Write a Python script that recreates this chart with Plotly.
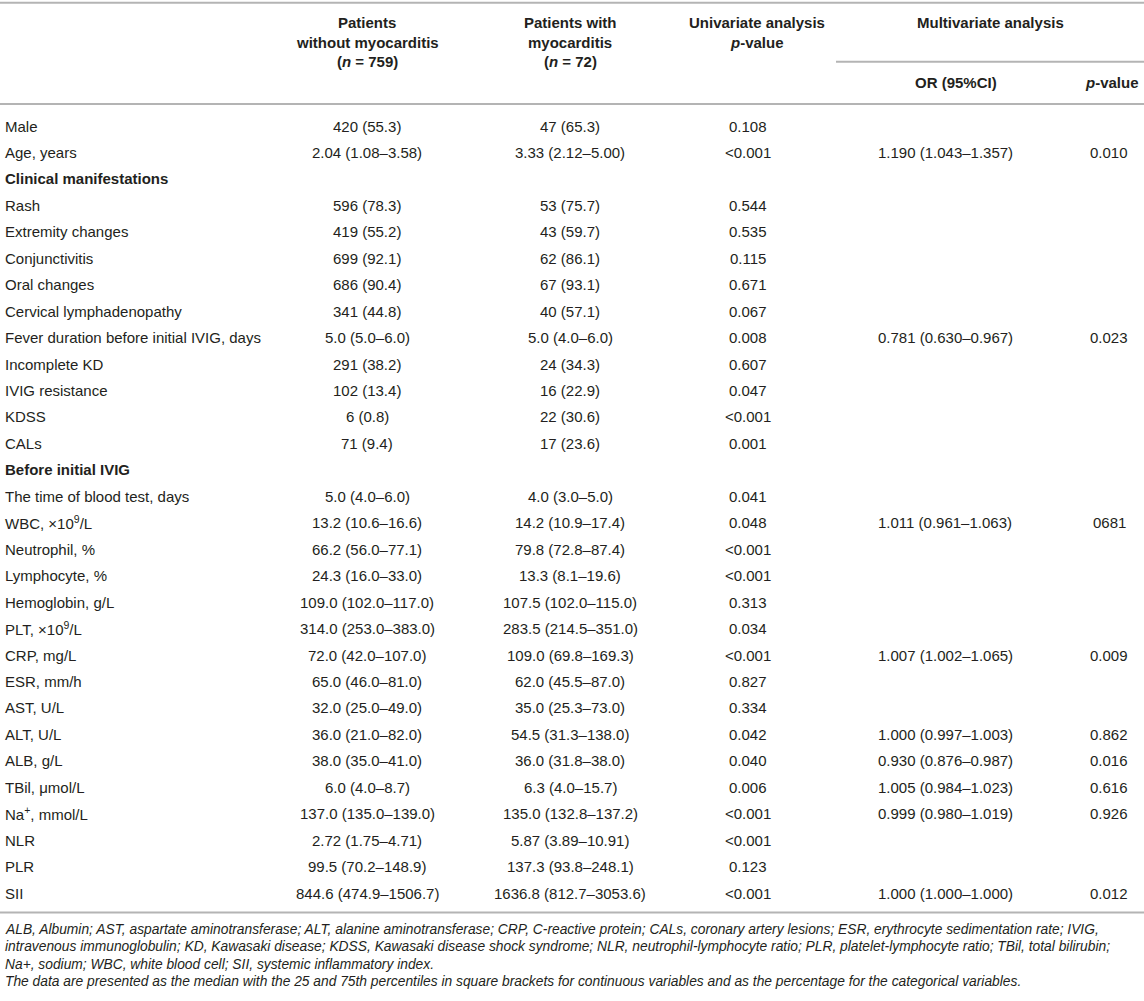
import plotly.graph_objects as go

# ---------------- data ----------------
labels = [
    "Male", "Age, years", "Clinical manifestations", "Rash", "Extremity changes",
    "Conjunctivitis", "Oral changes", "Cervical lymphadenopathy",
    "Fever duration before initial IVIG, days", "Incomplete KD", "IVIG resistance",
    "KDSS", "CALs", "Before initial IVIG", "The time of blood test, days",
    "WBC, \u00d710<sup>9</sup>/L", "Neutrophil, %", "Lymphocyte, %", "Hemoglobin, g/L",
    "PLT, \u00d710<sup>9</sup>/L", "CRP, mg/L", "ESR, mm/h", "AST, U/L", "ALT, U/L",
    "ALB, g/L", "TBil, \u03bcmol/L", "Na<sup>+</sup>, mmol/L", "NLR", "PLR", "SII",
]
section_rows = ["Clinical manifestations", "Before initial IVIG"]

without_myocarditis = [
    "420 (55.3)", "2.04 (1.08\u20133.58)", "", "596 (78.3)", "419 (55.2)",
    "699 (92.1)", "686 (90.4)", "341 (44.8)", "5.0 (5.0\u20136.0)", "291 (38.2)",
    "102 (13.4)", "6 (0.8)", "71 (9.4)", "", "5.0 (4.0\u20136.0)",
    "13.2 (10.6\u201316.6)", "66.2 (56.0\u201377.1)", "24.3 (16.0\u201333.0)",
    "109.0 (102.0\u2013117.0)", "314.0 (253.0\u2013383.0)", "72.0 (42.0\u2013107.0)",
    "65.0 (46.0\u201381.0)", "32.0 (25.0\u201349.0)", "36.0 (21.0\u201382.0)",
    "38.0 (35.0\u201341.0)", "6.0 (4.0\u20138.7)", "137.0 (135.0\u2013139.0)",
    "2.72 (1.75\u20134.71)", "99.5 (70.2\u2013148.9)", "844.6 (474.9\u20131506.7)",
]
with_myocarditis = [
    "47 (65.3)", "3.33 (2.12\u20135.00)", "", "53 (75.7)", "43 (59.7)",
    "62 (86.1)", "67 (93.1)", "40 (57.1)", "5.0 (4.0\u20136.0)", "24 (34.3)",
    "16 (22.9)", "22 (30.6)", "17 (23.6)", "", "4.0 (3.0\u20135.0)",
    "14.2 (10.9\u201317.4)", "79.8 (72.8\u201387.4)", "13.3 (8.1\u201319.6)",
    "107.5 (102.0\u2013115.0)", "283.5 (214.5\u2013351.0)", "109.0 (69.8\u2013169.3)",
    "62.0 (45.5\u201387.0)", "35.0 (25.3\u201373.0)", "54.5 (31.3\u2013138.0)",
    "36.0 (31.8\u201338.0)", "6.3 (4.0\u201315.7)", "135.0 (132.8\u2013137.2)",
    "5.87 (3.89\u201310.91)", "137.3 (93.8\u2013248.1)", "1636.8 (812.7\u20133053.6)",
]
univariate_p = [
    "0.108", "&lt;0.001", "", "0.544", "0.535", "0.115", "0.671", "0.067", "0.008",
    "0.607", "0.047", "&lt;0.001", "0.001", "", "0.041", "0.048", "&lt;0.001",
    "&lt;0.001", "0.313", "0.034", "&lt;0.001", "0.827", "0.334", "0.042", "0.040",
    "0.006", "&lt;0.001", "&lt;0.001", "0.123", "&lt;0.001",
]
or_95ci = [
    "", "1.190 (1.043\u20131.357)", "", "", "", "", "", "", "0.781 (0.630\u20130.967)",
    "", "", "", "", "", "", "1.011 (0.961\u20131.063)", "", "", "", "",
    "1.007 (1.002\u20131.065)", "", "", "1.000 (0.997\u20131.003)",
    "0.930 (0.876\u20130.987)", "1.005 (0.984\u20131.023)", "0.999 (0.980\u20131.019)",
    "", "", "1.000 (1.000\u20131.000)",
]
multivariate_p = [
    "", "0.010", "", "", "", "", "", "", "0.023", "", "", "", "", "", "", "0681",
    "", "", "", "", "0.009", "", "", "0.862", "0.016", "0.616", "0.926", "", "", "0.012",
]

header_col1 = ["Patients", "without myocarditis", "(<i>n</i> = 759)"]
header_col2 = ["Patients with", "myocarditis", "(<i>n</i> = 72)"]
header_col3 = ["Univariate analysis", "<i>p</i>-value"]
header_multi = "Multivariate analysis"
header_or = "OR (95%CI)"
header_p = "<i>p</i>-value"

footnotes = [
    "ALB, Albumin; AST, aspartate aminotransferase; ALT, alanine aminotransferase; CRP, C-reactive protein; CALs, coronary artery lesions; ESR, erythrocyte sedimentation rate; IVIG,",
    "intravenous immunoglobulin; KD, Kawasaki disease; KDSS, Kawasaki disease shock syndrome; NLR, neutrophil-lymphocyte ratio; PLR, platelet-lymphocyte ratio; TBil, total bilirubin;",
    "Na+, sodium; WBC, white blood cell; SII, systemic inflammatory index.",
    "The data are presented as the median with the 25 and 75th percentiles in square brackets for continuous variables and as the percentage for the categorical variables.",
]

# ---------------- layout constants ----------------
W, H = 1144, 1001
FONT = "Liberation Sans, Arial, Helvetica, sans-serif"
TXT = "#231f20"
LINE = "#b4b4b4"
LABEL_X = 3
COL_X = {"c1": 367, "c2": 570, "c3": 748, "or": 945, "p": 1109}
HEAD_X = {"c1": 367, "c2": 570, "c3": 757, "multi": 990, "or": 956}
HEAD_P_RIGHT = 1141
ROW0, ROW_H = 126, 26.45
HEAD_Y0, HEAD_DY = 22.5, 19.6
SUB_HEAD_Y = 82.7
FOOT_Y0, FOOT_DY = 929, 17.6
BODY_SIZE, FOOT_SIZE = 15, 13.8

fig = go.Figure()
ann = []


def add(text, x, y, anchor="center", bold=False, italic=False, size=BODY_SIZE):
    t = text
    if bold:
        t = "<b>" + t + "</b>"
    if italic:
        t = "<i>" + t + "</i>"
    ann.append(dict(text=t, x=x, y=y, xref="x", yref="y", xanchor=anchor,
                    yanchor="middle", showarrow=False,
                    font=dict(family=FONT, size=size, color=TXT)))


# header
for k, line in enumerate(header_col1):
    add(line, HEAD_X["c1"], HEAD_Y0 + k * HEAD_DY, bold=True)
for k, line in enumerate(header_col2):
    add(line, HEAD_X["c2"], HEAD_Y0 + k * HEAD_DY, bold=True)
for k, line in enumerate(header_col3):
    add(line, HEAD_X["c3"], HEAD_Y0 + k * HEAD_DY, bold=True)
add(header_multi, HEAD_X["multi"], HEAD_Y0, bold=True)
add(header_or, HEAD_X["or"], SUB_HEAD_Y, bold=True)
add(header_p, HEAD_P_RIGHT, SUB_HEAD_Y, anchor="right", bold=True)

# body
for i, lab in enumerate(labels):
    y = ROW0 + i * ROW_H
    add(lab, LABEL_X, y, anchor="left", bold=lab in section_rows)
    for key, col in (("c1", without_myocarditis), ("c2", with_myocarditis),
                     ("c3", univariate_p), ("or", or_95ci), ("p", multivariate_p)):
        if col[i]:
            add(col[i], COL_X[key], y)

# footnotes
for k, line in enumerate(footnotes):
    add(line, LABEL_X, FOOT_Y0 + k * FOOT_DY, anchor="left", italic=True, size=FOOT_SIZE)

# rules
last_row_y = ROW0 + (len(labels) - 1) * ROW_H
rules = [
    (0, W, 2.7),
    (836, W, 61.7),
    (0, W, 104),
    (0, W, last_row_y + 19.5),
]
shapes = [dict(type="line", xref="x", yref="y", x0=a, x1=b, y0=y, y1=y,
               line=dict(color=LINE, width=2)) for a, b, y in rules]

fig.update_layout(
    width=W, height=H, autosize=False,
    margin=dict(l=0, r=0, t=0, b=0, pad=0),
    paper_bgcolor="white", plot_bgcolor="white",
    xaxis=dict(range=[0, W], visible=False, fixedrange=True),
    yaxis=dict(range=[H, 0], visible=False, fixedrange=True),
    annotations=ann, shapes=shapes, showlegend=False,
)

fig.write_html("out.html", config={"displayModeBar": False},
               post_script="document.body.style.margin='0';")
